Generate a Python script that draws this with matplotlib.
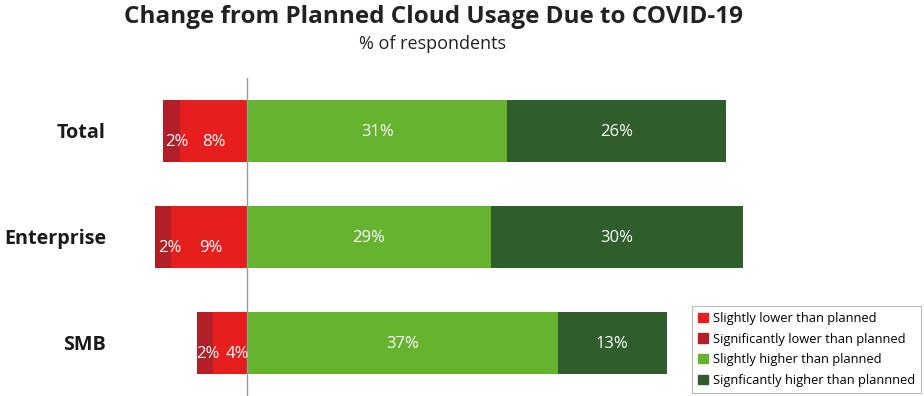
import matplotlib.pyplot as plt
from matplotlib.patches import Patch

plt.rcParams['font.family'] = ['Open Sans', 'DejaVu Sans']

groups = ['Total', 'Enterprise', 'SMB']
sig_lower = [2, 2, 2]
slight_lower = [8, 9, 4]
slight_higher = [31, 29, 37]
sig_higher = [26, 30, 13]

series_names = ['Slightly lower than planned', 'Significantly lower than planned',
                'Slightly higher than planned', 'Signficantly higher than plannned']
c_slight_lower = '#e61e1e'
c_sig_lower = '#b31f28'
c_slight_higher = '#65b32e'
c_sig_higher = '#2f5d2c'

# small nudges for the red labels so they don't run into each other
slight_nudge = [0.0, 0.2, 0.9]
sig_nudge = [0.6, 0.8, 0.3]

fig = plt.figure(figsize=(9.24, 3.96), dpi=100)
# zero line at x=247px, 8.4 px per percent
x0, x1 = -12, 68
left = (247 + x0 * 8.4) / 924
width = (x1 - x0) * 8.4 / 924
ax = fig.add_axes([left, 0, width, (396 - 78) / 396])

y = list(range(len(groups)))
h = 0.58

ax.barh(y, [-v for v in slight_lower], height=h, color=c_slight_lower)
ax.barh(y, [-v for v in sig_lower], left=[-v for v in slight_lower], height=h, color=c_sig_lower)
ax.barh(y, slight_higher, height=h, color=c_slight_higher)
ax.barh(y, sig_higher, left=slight_higher, height=h, color=c_sig_higher)

fs = 12
for i in y:
    a, b = sig_lower[i], slight_lower[i]
    ax.text(-b / 2 + slight_nudge[i], i + 0.1, f'{b}%', color='white', ha='center', va='center', fontsize=fs)
    ax.text(-b - a / 2 + sig_nudge[i], i + 0.1, f'{a}%', color='white', ha='center', va='center', fontsize=fs)
    c, d = slight_higher[i], sig_higher[i]
    ax.text(c / 2, i + 0.01, f'{c}%', color='white', ha='center', va='center', fontsize=fs)
    ax.text(c + d / 2, i + 0.01, f'{d}%', color='white', ha='center', va='center', fontsize=fs)
    ax.text(-16.8, i + 0.02, groups[i], ha='right', va='center', fontsize=14.2, fontweight='bold',
            color='#1a1a1a', clip_on=False)

ax.axvline(0, color='#999999', lw=1)
ax.set_xlim(x0, x1)
ax.set_ylim(2.5, -0.5)
ax.axis('off')

fig.text(0.469, 0.957, 'Change from Planned Cloud Usage Due to COVID-19', ha='center', va='center',
         fontsize=17.5, fontweight='bold', color='#222222')
fig.text(0.468, 0.889, '% of respondents', ha='center', va='center', fontsize=13, color='#222222')

handles = [Patch(color=c_slight_lower), Patch(color=c_sig_lower),
           Patch(color=c_slight_higher), Patch(color=c_sig_higher)]
leg = fig.legend(handles, series_names, loc='lower right', bbox_to_anchor=(0.997, 0.008),
                 fontsize=9.3, frameon=True, fancybox=False, edgecolor='#aaaaaa',
                 handlelength=0.75, handleheight=0.75, handletextpad=0.4, labelspacing=0.6,
                 borderpad=0.45, borderaxespad=0)
leg.get_frame().set_linewidth(0.8)

fig.savefig('out.png', dpi=100)
